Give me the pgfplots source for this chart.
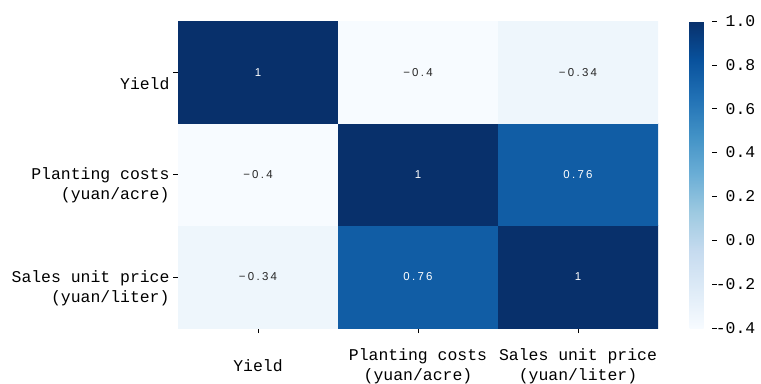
\documentclass[border=0pt]{standalone}
\usepackage{fontspec}
\setmainfont{Liberation Mono}
\newfontfamily\annfont{Liberation Sans}[LetterSpace=20]
\usepackage{pgfplots}
\pgfplotsset{compat=1.18}
\newcommand{\tlfont}{\fontsize{16.5}{20}\selectfont}
\begin{document}
\begin{tikzpicture}[x=1bp,y=1bp]
\path[use as bounding box] (0,0) rectangle (761,383);
\begin{axis}[
  at={(178bp,55bp)}, anchor=south west,
  scale only axis, width=480bp, height=307bp,
  xmin=-0.5, xmax=2.5, ymin=-0.5, ymax=2.5,
  axis line style={draw=none},
  xtick={0,1,2}, ytick={0,1,2},
  xticklabels={Yield, {Planting costs\\(yuan/acre)}, {Sales unit price\\(yuan/liter)}},
  yticklabels={{Sales unit price\\(yuan/liter)}, {Planting costs\\(yuan/acre)}, Yield},
  xtick pos=bottom, ytick pos=left,
  tick align=outside, major tick length=5bp,
  tick style={black, line width=0.6pt},
  tick label style={font=\tlfont},
  xticklabel style={align=center, anchor=center, yshift=-33bp},
  yticklabel style={align=right, anchor=east, yshift=-11bp},
  colormap={blues}{rgb255=(247,251,255) rgb255=(222,235,247) rgb255=(198,219,239) rgb255=(158,202,225) rgb255=(107,174,214) rgb255=(66,146,198) rgb255=(33,113,181) rgb255=(8,81,156) rgb255=(8,48,107)},
  point meta min=-0.4, point meta max=1,
  colorbar,
  colorbar style={
    at={(parent axis.north east)}, anchor=north west, xshift=23bp,
    width=22bp,
    axis line style={draw=none},
    ytick={-0.4,-0.2,0,0.2,0.4,0.6,0.8,1.0},
    ytick pos=right, tick align=outside, major tick length=5bp,
    tick style={black, line width=0.6pt},
    yticklabel style={font=\tlfont, anchor=east, inner sep=0pt, xshift=39bp,
      /pgf/number format/fixed, /pgf/number format/fixed zerofill,
      /pgf/number format/precision=1, /pgf/number format/assume math mode=true},
  },
]
\addplot[matrix plot*, mesh/cols=3, point meta=explicit] coordinates {
  (0,0) [-0.34] (1,0) [0.76] (2,0) [1]
  (0,1) [-0.4]  (1,1) [1]    (2,1) [0.76]
  (0,2) [1]     (1,2) [-0.4] (2,2) [-0.34]
};
\addplot[draw=none, mark=none, nodes near coords, point meta=explicit symbolic,
  nodes near coords style={font=\annfont\fontsize{11.5}{12}\selectfont, anchor=center, text=white}]
  coordinates {(1,0) [0.76] (2,0) [1] (1,1) [1] (2,1) [0.76] (0,2) [1]};
\addplot[draw=none, mark=none, nodes near coords, point meta=explicit symbolic,
  nodes near coords style={font=\annfont\fontsize{11.5}{12}\selectfont, anchor=center, text=black!85}]
  coordinates {(0,0) [−0.34] (0,1) [−0.4] (1,2) [−0.4] (2,2) [−0.34]};
\end{axis}
\end{tikzpicture}
\end{document}
